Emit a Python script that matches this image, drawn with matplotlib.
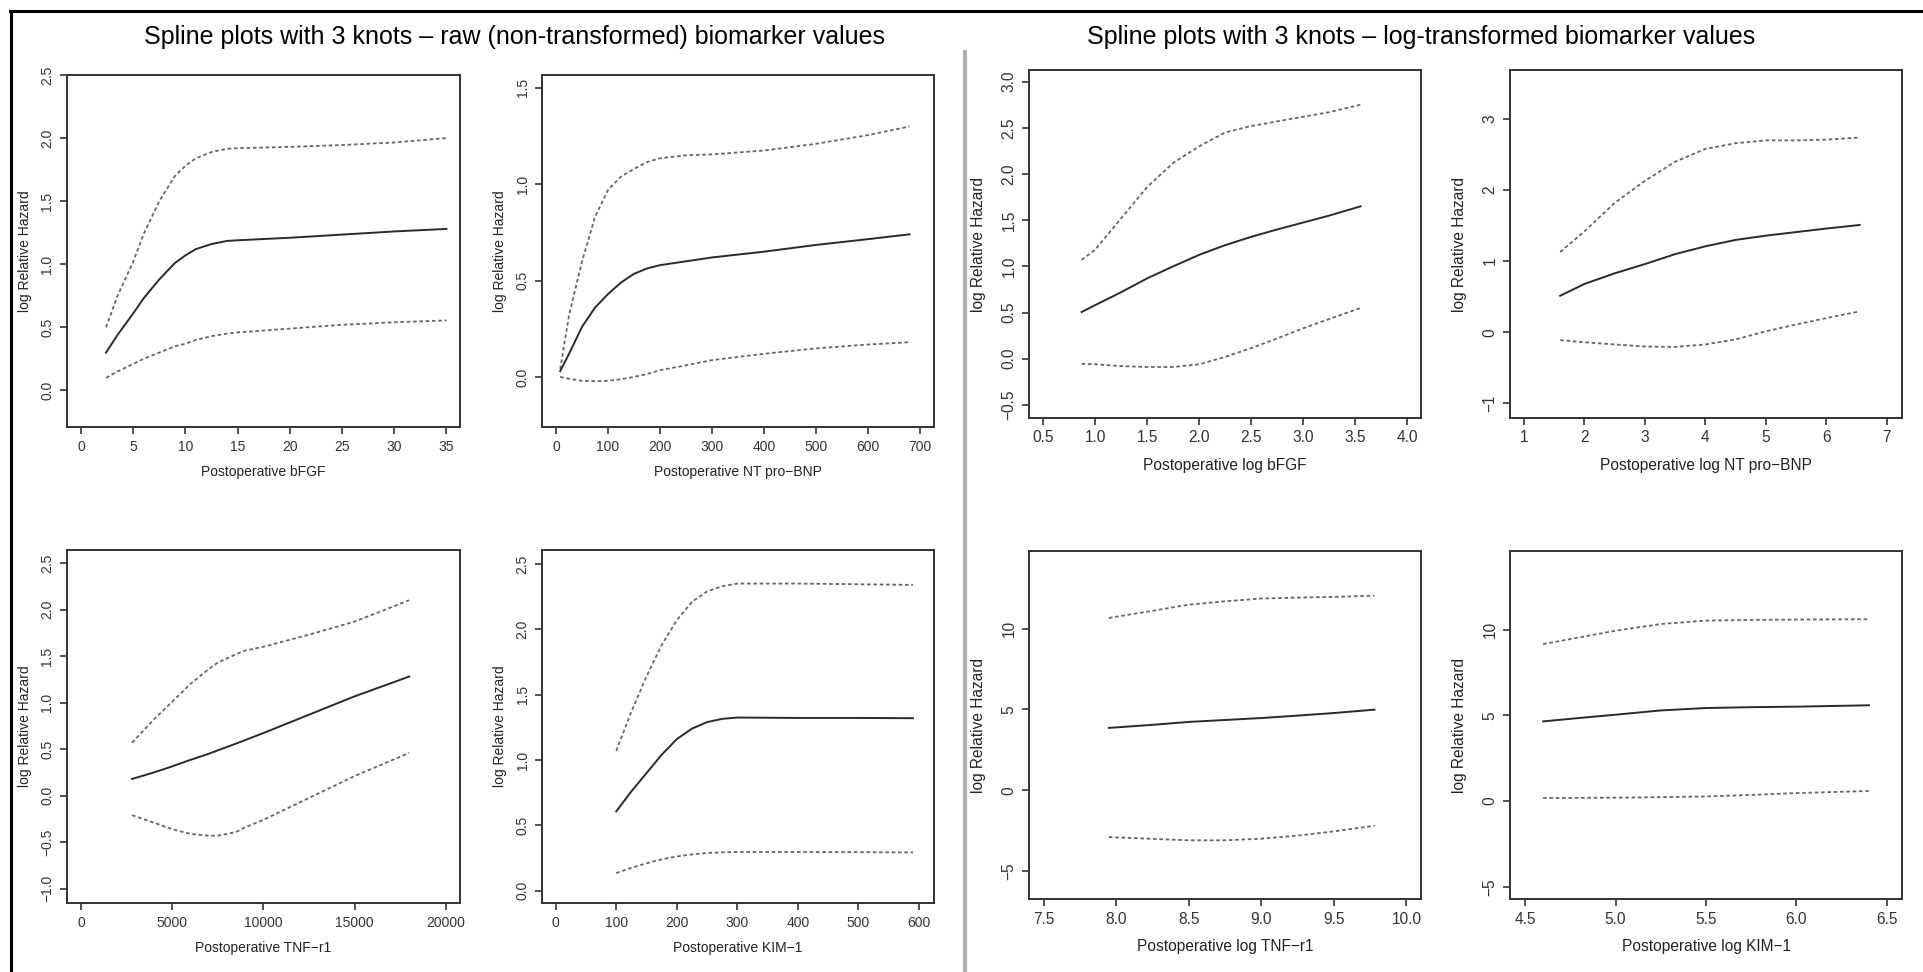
import matplotlib
matplotlib.use("Agg")
import matplotlib.pyplot as plt
from matplotlib.lines import Line2D

plt.rcParams['font.family'] = ['Liberation Sans', 'DejaVu Sans']

W, H = 1923, 972

## raw values - bFGF
bfgf_x = [2.4, 3.5, 5, 6, 7.5, 9, 10, 11, 12.5, 14, 15, 20, 25, 30, 35]
bfgf_fit = [0.30, 0.44, 0.61, 0.73, 0.88, 1.01, 1.07, 1.12, 1.16, 1.185, 1.19, 1.21, 1.235, 1.26, 1.28]
bfgf_hi = [0.50, 0.75, 1.02, 1.24, 1.50, 1.70, 1.78, 1.84, 1.89, 1.915, 1.92, 1.93, 1.945, 1.965, 2.0]
bfgf_lo = [0.10, 0.15, 0.21, 0.25, 0.30, 0.35, 0.37, 0.40, 0.43, 0.45, 0.46, 0.49, 0.52, 0.54, 0.555]

## raw values - NT pro-BNP
bnp_x = [8, 25, 50, 75, 100, 125, 150, 175, 200, 250, 300, 400, 500, 600, 680]
bnp_fit = [0.03, 0.12, 0.26, 0.36, 0.43, 0.49, 0.535, 0.563, 0.58, 0.60, 0.62, 0.65, 0.685, 0.715, 0.74]
bnp_hi = [0.04, 0.32, 0.60, 0.83, 0.97, 1.04, 1.08, 1.115, 1.135, 1.15, 1.155, 1.175, 1.21, 1.255, 1.30]
bnp_lo = [0.0, -0.01, -0.02, -0.022, -0.02, -0.012, 0.0, 0.015, 0.035, 0.06, 0.087, 0.12, 0.148, 0.168, 0.18]

## raw values - TNF-r1
tnf_x = [2800, 4000, 5000, 6000, 7000, 7500, 8500, 9000, 10000, 12500, 15000, 18000]
tnf_fit = [0.18, 0.25, 0.315, 0.385, 0.45, 0.487, 0.56, 0.597, 0.673, 0.87, 1.067, 1.28]
tnf_hi = [0.57, 0.82, 1.01, 1.20, 1.36, 1.43, 1.52, 1.56, 1.60, 1.73, 1.87, 2.10]
tnf_lo = [-0.21, -0.29, -0.36, -0.41, -0.43, -0.43, -0.39, -0.34, -0.26, -0.025, 0.21, 0.46]

## raw values - KIM-1
kim_x = [100, 125, 150, 175, 200, 225, 250, 275, 300, 400, 500, 590]
kim_fit = [0.607, 0.76, 0.90, 1.04, 1.16, 1.24, 1.29, 1.315, 1.325, 1.322, 1.322, 1.32]
kim_hi = [1.07, 1.37, 1.64, 1.88, 2.07, 2.21, 2.29, 2.33, 2.35, 2.35, 2.345, 2.34]
kim_lo = [0.135, 0.175, 0.21, 0.24, 0.262, 0.278, 0.288, 0.294, 0.296, 0.296, 0.295, 0.293]

## log values - bFGF
lbfgf_x = [0.87, 1.0, 1.25, 1.5, 1.75, 2.0, 2.25, 2.5, 2.75, 3.0, 3.25, 3.55]
lbfgf_fit = [0.505, 0.58, 0.72, 0.87, 1.0, 1.125, 1.23, 1.32, 1.40, 1.475, 1.55, 1.65]
lbfgf_hi = [1.07, 1.18, 1.52, 1.86, 2.12, 2.30, 2.45, 2.52, 2.57, 2.62, 2.67, 2.75]
lbfgf_lo = [-0.055, -0.06, -0.08, -0.09, -0.09, -0.06, 0.02, 0.115, 0.22, 0.33, 0.43, 0.55]

## log values - NT pro-BNP
lbnp_x = [1.6, 2.0, 2.5, 3.0, 3.5, 4.0, 4.5, 5.0, 5.5, 6.0, 6.55]
lbnp_fit = [0.515, 0.68, 0.83, 0.96, 1.10, 1.21, 1.30, 1.36, 1.41, 1.46, 1.51]
lbnp_hi = [1.13, 1.42, 1.82, 2.13, 2.40, 2.58, 2.66, 2.70, 2.70, 2.71, 2.74]
lbnp_lo = [-0.11, -0.14, -0.17, -0.20, -0.205, -0.17, -0.10, 0.015, 0.11, 0.20, 0.295]

## log values - TNF-r1
ltnf_x = [7.95, 8.25, 8.5, 8.75, 9.0, 9.25, 9.5, 9.78]
ltnf_fit = [3.86, 4.05, 4.23, 4.35, 4.47, 4.62, 4.78, 4.99]
ltnf_hi = [10.66, 11.1, 11.48, 11.69, 11.86, 11.92, 11.96, 12.04]
ltnf_lo = [-2.89, -3.0, -3.09, -3.09, -2.99, -2.8, -2.54, -2.19]

## log values - KIM-1
lkim_x = [4.6, 4.8, 5.0, 5.25, 5.5, 5.75, 6.0, 6.2, 6.4]
lkim_fit = [4.65, 4.85, 5.04, 5.29, 5.43, 5.48, 5.51, 5.55, 5.59]
lkim_hi = [9.16, 9.55, 9.94, 10.33, 10.53, 10.57, 10.59, 10.6, 10.61]
lkim_lo = [0.18, 0.19, 0.2, 0.23, 0.27, 0.36, 0.47, 0.53, 0.59]

fig = plt.figure(figsize=(W / 100, H / 100), dpi=100)


def panel(box, x, fit, hi, lo, xlim, ylim, xticks, yticks, yfmt, xlabel, fs):
    left, top, right, bottom = box
    ax = fig.add_axes([left / W, 1 - bottom / H, (right - left) / W, (bottom - top) / H])
    ax.plot(x, hi, color='#666666', lw=1.3, ls=(0, (2.0, 1.5)))
    ax.plot(x, lo, color='#666666', lw=1.3, ls=(0, (2.0, 1.5)))
    ax.plot(x, fit, color='#2a2a2a', lw=1.4)
    ax.set_xlim(xlim)
    ax.set_ylim(ylim)
    ax.set_xticks(xticks)
    ax.set_yticks(yticks)
    ax.set_yticklabels([yfmt.format(v).replace('-', '\u2212') for v in yticks])
    ax.set_xticklabels([str(v) for v in xticks])
    ax.tick_params(length=5, width=1.2, color='#333333', labelcolor='#333333', labelsize=fs, pad=4)
    ax.tick_params(axis='y', labelrotation=90)
    for lab in ax.get_yticklabels():
        lab.set_va('center')
    for s in ax.spines.values():
        s.set_linewidth(1.4)
        s.set_color('#333333')
    w = right - left
    h = bottom - top
    ax.set_xlabel(xlabel, fontsize=fs, color='#222222')
    ax.set_ylabel('log Relative Hazard', fontsize=fs, color='#222222')
    ax.xaxis.set_label_coords(0.5, -38 / h if fs < 11 else -40 / h)
    ax.yaxis.set_label_coords(-35 / w if fs < 11 else -43 / w, 0.5)
    return ax


fs_raw = 10
fs_log = 11.2

panel((67, 75, 460, 427), bfgf_x, bfgf_fit, bfgf_hi, bfgf_lo, (-1.34, 36.3), (-0.29, 2.5),
      [0, 5, 10, 15, 20, 25, 30, 35], [0, 0.5, 1.0, 1.5, 2.0, 2.5], '{:.1f}', 'Postoperative bFGF', fs_raw)
panel((542, 75, 934, 427), bnp_x, bnp_fit, bnp_hi, bnp_lo, (-27, 727), (-0.26, 1.567),
      [0, 100, 200, 300, 400, 500, 600, 700], [0, 0.5, 1.0, 1.5], '{:.1f}', 'Postoperative NT pro\u2212BNP', fs_raw)
panel((67, 550, 460, 903), tnf_x, tnf_fit, tnf_hi, tnf_lo, (-768, 20786), (-1.153, 2.64),
      [0, 5000, 10000, 15000, 20000], [-1.0, -0.5, 0, 0.5, 1.0, 1.5, 2.0, 2.5], '{:.1f}',
      'Postoperative TNF\u2212r1', fs_raw)
panel((542, 550, 934, 903), kim_x, kim_fit, kim_hi, kim_lo, (-22.6, 624.8), (-0.094, 2.607),
      [0, 100, 200, 300, 400, 500, 600], [0, 0.5, 1.0, 1.5, 2.0, 2.5], '{:.1f}', 'Postoperative KIM\u22121', fs_raw)

panel((1029, 70, 1421, 418), lbfgf_x, lbfgf_fit, lbfgf_hi, lbfgf_lo, (0.365, 4.13), (-0.642, 3.126),
      [0.5, 1.0, 1.5, 2.0, 2.5, 3.0, 3.5, 4.0], [-0.5, 0, 0.5, 1.0, 1.5, 2.0, 2.5, 3.0], '{:.1f}',
      'Postoperative log bFGF', fs_log)
panel((1510, 70, 1902, 418), lbnp_x, lbnp_fit, lbnp_hi, lbnp_lo, (0.77, 7.25), (-1.205, 3.69),
      [1, 2, 3, 4, 5, 6, 7], [-1, 0, 1, 2, 3], '{:d}', 'Postoperative log NT pro\u2212BNP', fs_log)
panel((1029, 551, 1421, 899), ltnf_x, ltnf_fit, ltnf_hi, ltnf_lo, (7.40, 10.1), (-6.72, 14.8),
      [7.5, 8.0, 8.5, 9.0, 9.5, 10.0], [-5, 0, 5, 10], '{:d}', 'Postoperative log TNF\u2212r1', fs_log)
panel((1510, 551, 1902, 899), lkim_x, lkim_fit, lkim_hi, lkim_lo, (4.417, 6.583), (-5.71, 14.59),
      [4.5, 5.0, 5.5, 6.0, 6.5], [-5, 0, 5, 10], '{:d}', 'Postoperative log KIM\u22121', fs_log)

# titles of the two halves
fig.text(514 / W, 1 - 37 / H, 'Spline plots with 3 knots \u2013 raw (non-transformed) biomarker values',
         ha='center', va='center', fontsize=18)
fig.text(1421 / W, 1 - 37 / H, 'Spline plots with 3 knots \u2013 log-transformed biomarker values',
         ha='center', va='center', fontsize=18)

# outer frame and separator
fig.add_artist(Line2D([10 / W, 1], [1 - 11 / H, 1 - 11 / H], color='black', lw=2.2))
fig.add_artist(Line2D([11 / W, 11 / W], [0, 1 - 11 / H], color='black', lw=2.2))
fig.add_artist(Line2D([965 / W, 965 / W], [0, 1 - 52 / H], color='#b0b0b0', lw=3))

fig.savefig('out.png', dpi=100)
